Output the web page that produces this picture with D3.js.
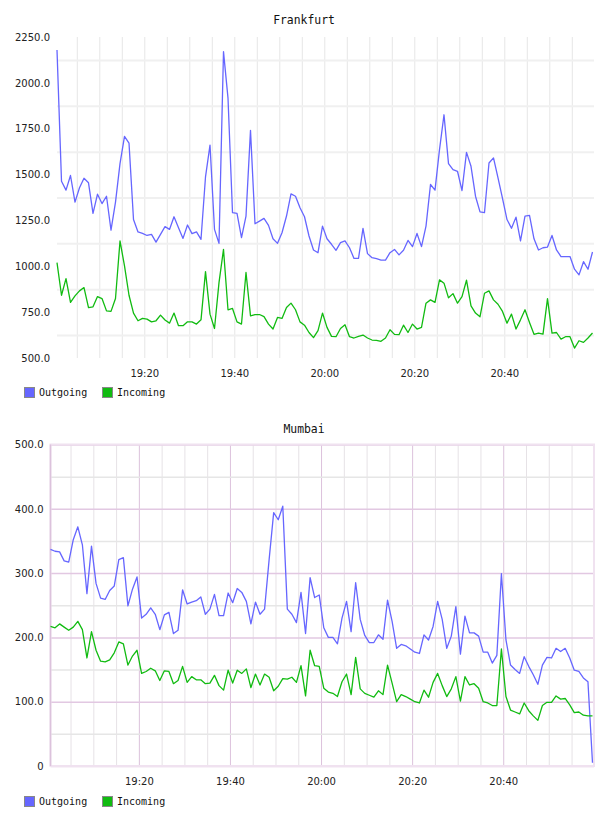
<!DOCTYPE html>
<html>
<head>
<meta charset="utf-8">
<script src="https://cdn.jsdelivr.net/npm/d3@7"></script>
<style>
  body { margin: 0; background: #fff; }
  svg { display: block; }
  .tick text { font-family: "DejaVu Sans", sans-serif; font-size: 10px; fill: #222; }
  .title { font-family: "DejaVu Sans Mono", monospace; font-size: 11.4px; fill: #111; }
  .legend text { font-family: "DejaVu Sans Mono", monospace; font-size: 10px; fill: #111; }
</style>
</head>
<body>
<script>
"use strict";

// one sample per minute, 120 samples
var startTime = new Date(2000, 0, 1, 19, 0, 36);
var sampleCount = 120;

var seriesNames = ['Outgoing', 'Incoming'];
var seriesColors = ['#6666ff', '#11bb11'];

var frankfurtOut = [2179,1464,1415,1495,1350,1428,1480,1455,1288,1393,1342,1382,1197,1350,1560,1708,1672,1255,1187,1179,
  1168,1174,1132,1174,1216,1201,1270,1210,1152,1225,1178,1188,1147,1487,1661,1201,1125,2170,1917,1292,
  1288,1156,1274,1741,1232,1246,1261,1223,1150,1125,1183,1274,1395,1382,1319,1270,1165,1089,1074,1219,
  1150,1120,1087,1129,1138,1101,1043,1043,1207,1069,1047,1042,1034,1034,1074,1092,1062,1087,1141,1107,
  1179,1107,1219,1446,1415,1636,1826,1560,1527,1518,1413,1621,1545,1382,1297,1293,1563,1591,1482,1370,
  1255,1207,1268,1138,1274,1277,1150,1089,1101,1105,1168,1089,1053,1053,1053,984,953,1025,984,1078];

var frankfurtIn = [1020,842,933,803,839,866,884,775,779,835,824,757,754,824,1138,1002,842,745,703,716,
  712,697,703,734,707,690,745,676,676,697,697,685,708,971,739,661,911,1092,763,770,
  697,685,966,730,737,737,726,685,658,721,716,775,799,763,697,679,639,611,649,745,
  667,618,616,661,681,616,609,618,625,609,598,596,591,609,654,629,627,679,639,685,
  658,667,799,817,803,926,908,828,851,799,835,924,784,745,725,853,866,817,793,754,
  690,739,658,708,763,694,629,636,630,824,636,639,603,616,616,554,594,585,609,636];

var mumbaiOut = [337,334,333,319,317,352,372,344,268,342,284,261,259,273,280,321,324,249,275,294,
  230,236,246,236,212,235,239,206,211,274,252,255,257,263,236,244,267,234,234,269,
  254,276,270,256,221,255,236,244,321,394,383,404,244,236,223,270,206,293,262,266,
  215,200,200,190,230,256,209,285,228,203,192,192,204,197,258,225,183,189,187,182,
  177,175,204,196,217,256,228,183,202,248,174,233,207,207,202,177,177,160,172,299,
  196,157,150,144,170,155,142,127,157,169,168,183,178,183,168,149,147,137,131,5];

var mumbaiIn = [217,215,221,216,211,216,225,212,168,209,180,163,162,165,176,193,190,157,171,180,
  144,147,152,148,133,148,147,128,133,155,130,139,134,134,128,129,141,125,118,149,
  129,149,144,151,122,143,126,143,138,117,124,136,135,138,130,156,109,180,156,155,
  121,115,113,108,131,143,111,169,120,113,110,107,117,111,157,129,100,111,108,104,
  100,98,118,107,130,144,125,108,120,139,101,139,126,128,121,100,98,94,94,182,
  108,87,84,81,98,86,78,71,94,99,99,109,104,105,95,83,84,79,78,78];

var frankfurtTicks = [2250, 2000, 1750, 1500, 1250, 1000, 750, 500];
var mumbaiTicks = [500, 400, 300, 200, 100, 0];
var mumbaiMinorTicks = [450, 350, 250, 150, 50];

var times = d3.range(sampleCount).map(function(i) { return d3.timeMinute.offset(startTime, i); });

var svg = d3.select('body').append('svg')
  .attr('width', 608)
  .attr('height', 816);

svg.append('rect').attr('width', 608).attr('height', 816).attr('fill', '#fff');

// Frankfurt
drawChart({
  title: 'Frankfurt', titleY: 24,
  left: 57, right: 594, top: 37, bottom: 358,
  yDomain: [500, 2250], yTicks: frankfurtTicks,
  // grid lines in this one sit halfway between the labels
  yGrid: frankfurtTicks.slice(1).map(function(v) { return v + 125; }),
  yMinor: [],
  style: 'plain',
  legendY: 387,
  series: [frankfurtOut, frankfurtIn],
  fmt: function(v) { return d3.format('.1f')(v); }
});

// Mumbai
drawChart({
  title: 'Mumbai', titleY: 433,
  left: 50.5, right: 594, top: 444.5, bottom: 766,
  yDomain: [0, 500], yTicks: mumbaiTicks,
  yGrid: mumbaiTicks,
  yMinor: mumbaiMinorTicks,
  style: 'purple',
  legendY: 796,
  series: [mumbaiOut, mumbaiIn],
  fmt: function(v) { return v === 0 ? '0' : d3.format('.1f')(v); }
});

function drawChart(c) {
  var w = c.right - c.left, h = c.bottom - c.top;
  var g = svg.append('g').attr('transform', 'translate(' + c.left + ',' + c.top + ')');

  var x = d3.scaleTime()
    .domain([times[0], times[times.length - 1]])
    .range([0, w - 1.5]);
  var y = d3.scaleLinear().domain(c.yDomain).range([h, 0]);

  svg.append('text').attr('class', 'title')
    .attr('x', 304).attr('y', c.titleY)
    .attr('text-anchor', 'middle')
    .text(c.title);

  var purple = c.style === 'purple';

  // vertical grid, every 5 minutes
  var vg = g.append('g').attr('transform', 'translate(0,' + h + ')')
    .call(d3.axisBottom(x).ticks(d3.timeMinute.every(5)).tickSize(-h).tickFormat(''));
  vg.select('.domain').remove();
  vg.selectAll('.tick line')
    .attr('stroke', function(d) {
      if (purple) return d.getMinutes() % 20 === 0 ? '#dcc2dc' : '#e6e2e6';
      return '#e6e6e6';
    })
    .attr('stroke-width', 1);

  // horizontal grid
  if (c.yMinor.length) {
    var mg = g.append('g').call(d3.axisLeft(y).tickValues(c.yMinor).tickSize(-w).tickFormat(''));
    mg.select('.domain').remove();
    mg.selectAll('.tick line').attr('stroke', '#e6e6e6').attr('stroke-width', 1.5);
  }
  var hg = g.append('g').call(d3.axisLeft(y).tickValues(c.yGrid).tickSize(-w).tickFormat(''));
  hg.select('.domain').remove();
  hg.selectAll('.tick line')
    .attr('stroke', purple ? '#e2c8e2' : '#f0f0f0')
    .attr('stroke-width', purple ? 1.5 : 2);

  if (purple) {
    // light frame round the plot
    g.append('rect')
      .attr('x', 0).attr('y', 0).attr('width', w).attr('height', h)
      .attr('fill', 'none').attr('stroke', '#f0e2f0').attr('stroke-width', 2);
    g.append('line')
      .attr('x1', 0).attr('x2', 0).attr('y1', 0).attr('y2', h)
      .attr('stroke', '#dcc2dc').attr('stroke-width', 1.5);
  }

  // y labels
  var ya = g.append('g')
    .call(d3.axisLeft(y).tickValues(c.yTicks).tickSize(0).tickPadding(7).tickFormat(c.fmt));
  ya.select('.domain').remove();

  // x labels every 20 minutes
  var xa = g.append('g').attr('transform', 'translate(0,' + h + ')')
    .call(d3.axisBottom(x).ticks(d3.timeMinute.every(20)).tickSize(0).tickPadding(12)
      .tickFormat(d3.timeFormat('%H:%M')));
  xa.select('.domain').remove();

  // lines
  var line = d3.line()
    .x(function(d, i) { return x(times[i]); })
    .y(function(d) { return y(d); });

  c.series.forEach(function(s, k) {
    g.append('path')
      .datum(s)
      .attr('fill', 'none')
      .attr('stroke', seriesColors[k])
      .attr('stroke-width', 1.3)
      .attr('stroke-linejoin', 'round')
      .attr('d', line);
  });

  // legend
  var lg = svg.append('g').attr('class', 'legend')
    .attr('transform', 'translate(24,' + c.legendY + ')');
  seriesNames.forEach(function(name, k) {
    var item = lg.append('g').attr('transform', 'translate(' + (k * 78) + ',0)');
    item.append('rect')
      .attr('x', 0.5).attr('y', 0.5).attr('width', 10).attr('height', 10)
      .attr('fill', seriesColors[k]).attr('stroke', '#888');
    item.append('text').attr('x', 15).attr('y', 9).text(name);
  });
}
</script>
</body>
</html>
